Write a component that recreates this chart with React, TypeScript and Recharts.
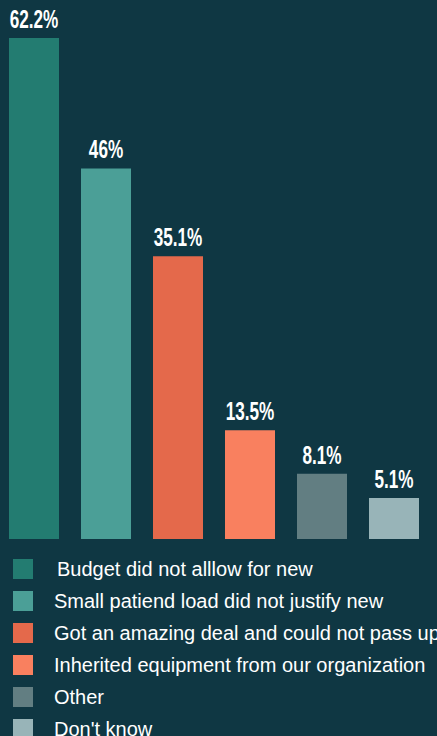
import { BarChart, Bar, XAxis, YAxis, Cell, LabelList, Legend } from "recharts"

const categories = [
  "Budget did not alllow for new",
  "Small patiend load did not justify new",
  "Got an amazing deal and could not pass up",
  "Inherited equipment from our organization",
  "Other",
  "Don't know",
]
const values = [62.2, 46, 35.1, 13.5, 8.1, 5.1]
const colors = ["#237c71", "#4b9f97", "#e4694b", "#f9805f", "#627e82", "#98b4b8"]

const BG = "#0f3743"

const chartData = categories.map((name, i) => ({ name, value: values[i] }))

// condensed bold figures above the bars
function ValueLabel(props: any) {
  const { x, y, width, value } = props
  const cx = Number(x) + Number(width) / 2
  return (
    <g transform={`translate(${cx},${Number(y) - 10}) scale(0.66,1)`}>
      <text
        x={0}
        y={0}
        textAnchor="middle"
        fill="#ffffff"
        fontSize={26}
        fontWeight="bold"
        fontFamily="'Liberation Sans', Arial, sans-serif"
      >
        {value}%
      </text>
    </g>
  )
}

function LegendContent() {
  return (
    <div style={{ fontFamily: "'Liberation Sans', Arial, sans-serif" }}>
      {categories.map((c, i) => (
        <div key={c} style={{ height: 32, display: "flex", alignItems: "center", whiteSpace: "nowrap" }}>
          <span style={{ width: 20, height: 20, marginLeft: 13, background: colors[i], flex: "none" }} />
          <span style={{ marginLeft: i === 0 ? 24 : 21, fontSize: 20, color: "#ffffff" }}>{c}</span>
        </div>
      ))}
    </div>
  )
}

export default function App() {
  return (
    <div style={{ width: 437, height: 736, background: BG, position: "relative", overflow: "hidden" }}>
      <style>{`body{margin:0;background:${BG}}`}</style>
      <BarChart
        width={437}
        height={736}
        data={chartData}
        margin={{ top: 38, right: 7, left: -2, bottom: 197 }}
        barCategoryGap={22}
      >
        <XAxis dataKey="name" hide />
        <YAxis hide domain={[0, "dataMax"]} />
        <Legend
          layout="vertical"
          align="center"
          verticalAlign="middle"
          wrapperStyle={{ top: 553, left: 0, width: 437 }}
          content={<LegendContent />}
        />
        <Bar dataKey="value" barSize={50} isAnimationActive={false}>
          {chartData.map((d, i) => (
            <Cell key={d.name} fill={colors[i]} />
          ))}
          <LabelList dataKey="value" content={<ValueLabel />} />
        </Bar>
      </BarChart>
    </div>
  )
}
